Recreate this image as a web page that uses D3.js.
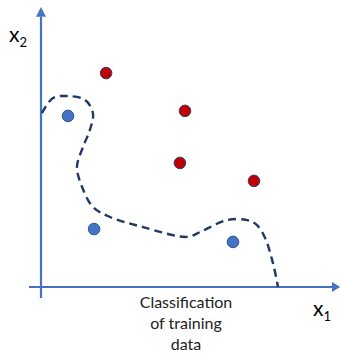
<!DOCTYPE html>
<html><head><meta charset="utf-8">
<script src="https://cdn.jsdelivr.net/npm/d3@7"></script>
<style>body{margin:0;background:#fff}svg{display:block}</style>
</head><body>
<svg id="c" width="341" height="353"></svg>
<script>
// data (chart units)
const classBlue = [[0.9, 6.11], [1.77, 2.07], [6.4, 1.61]];
const classRed = [[2.17, 7.64], [4.8, 6.29], [4.63, 4.43], [7.1, 3.79]];
const boundary = [[0.03,6.21],[0.4,6.75],[0.87,6.82],[1.47,6.68],[1.73,6.21],[1.63,5.61],[1.4,5.0],[1.2,4.29],[1.37,3.57],[1.73,2.86],[2.3,2.5],[3.4,2.14],[4.87,1.79],[5.3,1.96],[6.2,2.39],[6.87,2.39],[7.2,2.21],[7.47,1.75],[7.73,0.86],[7.9,0]];
const captionLines = ["Classification", "of training", "data"];

const svg = d3.select("#c");
const x = d3.scaleLinear().domain([0, 10]).range([41, 341]);
const y = d3.scaleLinear().domain([0, 10]).range([287, 7]);
const axisColor = "#4472c4";
const font = "Lato, 'Open Sans', 'Liberation Sans', sans-serif";

// axes
svg.append("line").attr("x1", x(-0.4)).attr("x2", x(9.7)).attr("y1", y(0)).attr("y2", y(0))
  .attr("stroke", axisColor).attr("stroke-width", 2.2);
svg.append("line").attr("x1", x(0)).attr("x2", x(0)).attr("y1", y(-0.39)).attr("y2", y(9.65))
  .attr("stroke", axisColor).attr("stroke-width", 2.2);
// arrowheads
svg.append("path").attr("fill", axisColor)
  .attr("d", `M${x(9.97)},${y(0)} L${x(9.7)},${y(0)-5} L${x(9.7)},${y(0)+5} Z`);
svg.append("path").attr("fill", axisColor)
  .attr("d", `M${x(0)},${y(10)} L${x(0)-5},${y(9.65)} L${x(0)+5},${y(9.65)} Z`);

// boundary
svg.append("path").datum(boundary)
  .attr("d", d3.line().x(d => x(d[0])).y(d => y(d[1])).curve(d3.curveCatmullRom.alpha(0.5)))
  .attr("fill", "none").attr("stroke", "#1f3864").attr("stroke-width", 2.4)
  .attr("stroke-dasharray", "8,5");

// points
svg.selectAll(".b").data(classBlue).join("circle")
  .attr("cx", d => x(d[0])).attr("cy", d => y(d[1])).attr("r", 5.8)
  .attr("fill", "#4472c4").attr("stroke", "#2f528f").attr("stroke-width", 1);
svg.selectAll(".r").data(classRed).join("circle")
  .attr("cx", d => x(d[0])).attr("cy", d => y(d[1])).attr("r", 5.8)
  .attr("fill", "#c00000").attr("stroke", "#2f3f6f").attr("stroke-width", 1);

// axis labels
const t2 = svg.append("text").attr("x", 9).attr("y", 42).attr("font-family", font).attr("font-size", 21).attr("fill", "#000");
t2.append("tspan").text("x");
t2.append("tspan").attr("font-size", 13).attr("dy", 5).text("2");
const t1 = svg.append("text").attr("x", 313).attr("y", 316).attr("font-family", font).attr("font-size", 21).attr("fill", "#000");
t1.append("tspan").text("x");
t1.append("tspan").attr("font-size", 13).attr("dy", 5).text("1");

// caption
svg.selectAll(".cap").data(captionLines).join("text")
  .attr("x", 186).attr("y", (d, i) => 308 + i * 21)
  .attr("text-anchor", "middle").attr("font-family", font).attr("font-size", 16).attr("fill", "#222")
  .text(d => d);
</script>
</body></html>
